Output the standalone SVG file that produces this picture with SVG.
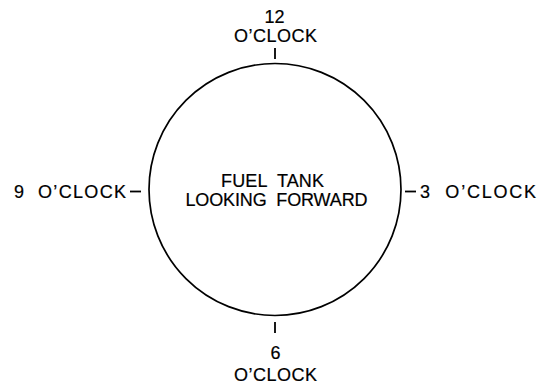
<svg xmlns="http://www.w3.org/2000/svg" width="540" height="391" viewBox="0 0 540 391" xml:space="preserve">
<style>
text{font-family:"Liberation Sans",Arial,sans-serif;font-size:18px;fill:#000;stroke:#000;stroke-width:0.2;white-space:pre;}
.tick{stroke:#000;stroke-width:1.8;fill:none;}
.tank{stroke:#000;stroke-width:1.7;fill:#fff;}
</style>
<rect width="540" height="391" fill="#fff"/>
<g id="tank">
<circle class="tank" cx="275" cy="189.5" r="126"/>
<text x="221" y="186.5" textLength="103" lengthAdjust="spacing">FUEL  TANK</text>
<text x="185.5" y="205.5" textLength="182" lengthAdjust="spacing">LOOKING  FORWARD</text>
</g>
<g id="connectors">
<line class="tick" x1="275" y1="48" x2="275" y2="59"/>
<line class="tick" x1="275" y1="322" x2="275" y2="333"/>
<line class="tick" x1="130" y1="191.5" x2="141" y2="191.5"/>
<line class="tick" x1="405" y1="191.5" x2="416" y2="191.5"/>
</g>
<g id="label-12">
<text x="274.5" y="22.5" text-anchor="middle">12</text>
<text x="234" y="41.5" textLength="83" lengthAdjust="spacing">O’CLOCK</text>
</g>
<g id="label-6">
<text x="275.5" y="358.5" text-anchor="middle">6</text>
<text x="234" y="380.5" textLength="83" lengthAdjust="spacing">O’CLOCK</text>
</g>
<g id="label-9">
<text x="14" y="197.5" textLength="112" lengthAdjust="spacing">9  O’CLOCK</text>
</g>
<g id="label-3">
<text x="420" y="197.5" textLength="116" lengthAdjust="spacing">3  O’CLOCK</text>
</g>
</svg>
